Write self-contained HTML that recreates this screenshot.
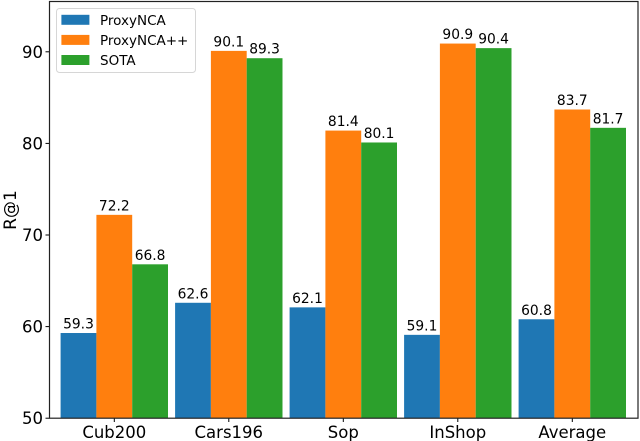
<!DOCTYPE html>
<html>
<head>
<meta charset="utf-8">
<style>
html,body{margin:0;padding:0;background:#fff;}
svg{display:block;filter:blur(0.35px);}
text{font-family:"DejaVu Sans","Liberation Sans",sans-serif;fill:#000;}
</style>
</head>
<body>
<svg id="chart" width="640" height="441" viewBox="0 0 640 441" xmlns="http://www.w3.org/2000/svg"></svg>
<script>
const categories = ['Cub200', 'Cars196', 'Sop', 'InShop', 'Average'];
const proxyNCA = [59.3, 62.6, 62.1, 59.1, 60.8];
const proxyNCAPlus = [72.2, 90.1, 81.4, 90.9, 83.7];
const sota = [66.8, 89.3, 80.1, 90.4, 81.7];
const seriesNames = ['ProxyNCA', 'ProxyNCA++', 'SOTA'];
const yTicks = [50, 60, 70, 80, 90];
const yAxisLabel = 'R@1';

const NS = 'http://www.w3.org/2000/svg';
const svg = document.getElementById('chart');
const colors = ['#1f77b4', '#ff7f0e', '#2ca02c'];
const series = [proxyNCA, proxyNCAPlus, sota];
const plot = {left: 49.5, right: 638, top: 1.5, bottom: 418.2};
const yScale = v => 418.2 - (v - 50) * 9.16;
const xScale = i => 114.3 + i * 114.5;
const barW = 35.8;

function mk(tag, attrs, parent, txt) {
  const el = document.createElementNS(NS, tag);
  for (const k in attrs) el.setAttribute(k, attrs[k]);
  if (txt !== undefined) el.textContent = txt;
  (parent || svg).appendChild(el);
  return el;
}

// bars and value labels
series.forEach((vals, s) => {
  vals.forEach((v, i) => {
    const x = xScale(i) + (s - 1.5) * barW;
    const y = yScale(v);
    const bar = mk('rect', {x: x, y: y, width: barW, height: yScale(50) - y, fill: colors[s]});
    
    
    const lab = mk('text', {x: x + barW / 2, y: y - 4.5, 'text-anchor': 'middle', 'font-size': 13.8}, svg, v.toFixed(1));
    
    
  });
});

// y ticks
yTicks.forEach(t => {
  const y = yScale(t);
  const tick = mk('line', {x1: 45.5, x2: plot.left, y1: y, y2: y, stroke: '#000', 'stroke-width': 1});
  
  
  const lab = mk('text', {x: 43, y: y + 6, 'text-anchor': 'end', 'font-size': 16.5}, svg, String(t));
  
  
});

// x ticks
categories.forEach((c, i) => {
  const x = xScale(i);
  const tick = mk('line', {x1: x, x2: x, y1: plot.bottom, y2: 422, stroke: '#000', 'stroke-width': 1});
  
  
  const lab = mk('text', {x: x, y: 438, 'text-anchor': 'middle', 'font-size': 16.5}, svg, c);
  
  
});

// frame
const frame = mk('rect', {x: plot.left, y: plot.top, width: plot.right - plot.left, height: plot.bottom - plot.top, fill: 'none', stroke: '#222', 'stroke-width': 1.2});



// y axis title
const yt = mk('text', {x: 0, y: 0, transform: 'translate(16,210) rotate(-90)', 'text-anchor': 'middle', 'font-size': 17}, svg, yAxisLabel);



// legend
const legend = mk('g', {});


mk('rect', {x: 56.5, y: 8.5, width: 139, height: 64, rx: 3, fill: '#fff', 'fill-opacity': 0.9, stroke: '#d6d6d6', 'stroke-width': 1}, legend);
seriesNames.forEach((n, s) => {
  const y = 14.8 + s * 20.1;
  const sw = mk('rect', {x: 61.4, y: y, width: 28, height: 10, fill: colors[s]}, legend);
  
  
  const t = mk('text', {x: 100, y: y + 10, 'font-size': 13.5}, legend, n);
  
  
});
</script>
</body>
</html>
